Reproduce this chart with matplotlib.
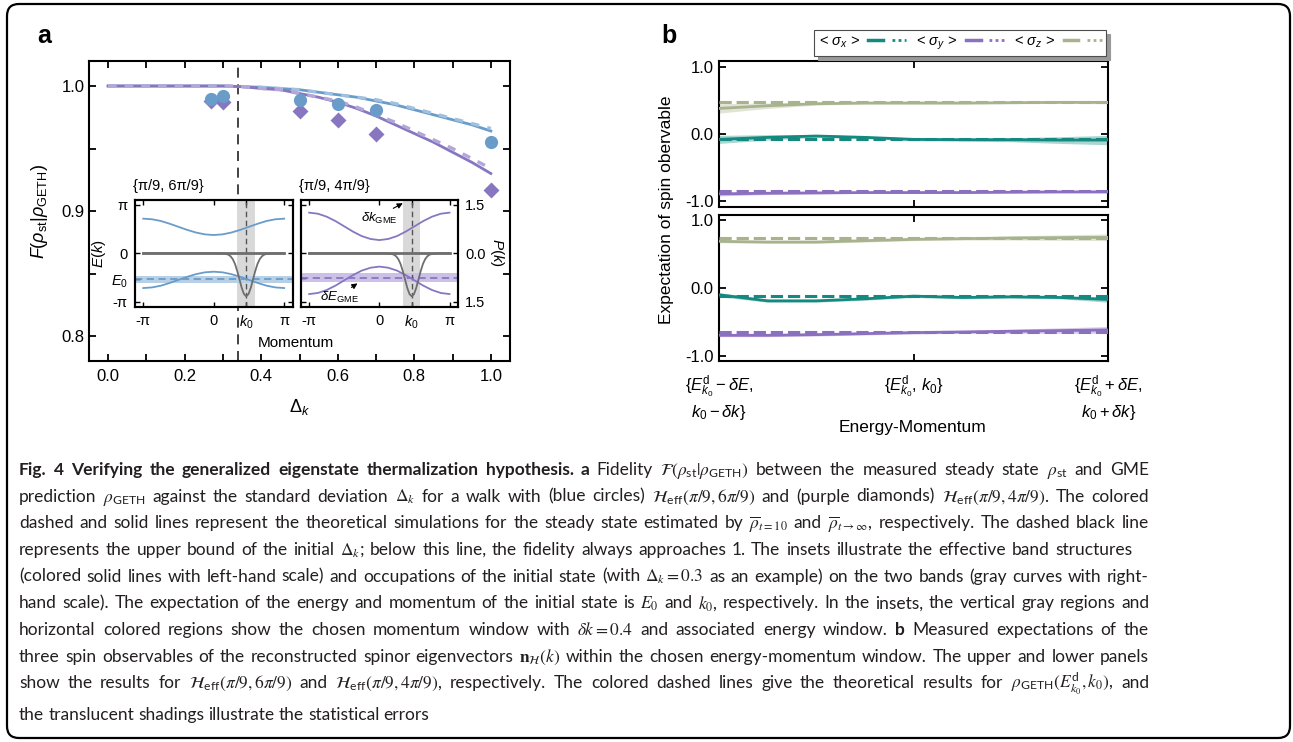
import numpy as np
import matplotlib
matplotlib.use("Agg")
import matplotlib.pyplot as plt
from matplotlib import font_manager
from matplotlib.lines import Line2D
from matplotlib.patches import FancyBboxPatch
from matplotlib.transforms import IdentityTransform
from matplotlib.legend_handler import HandlerTuple
from matplotlib.ticker import MultipleLocator, FormatStrFormatter

plt.rcParams['font.family'] = ['Liberation Sans', 'DejaVu Sans']
plt.rcParams['mathtext.fontset'] = 'custom'
plt.rcParams['mathtext.rm'] = 'Liberation Sans'
plt.rcParams['mathtext.it'] = 'Liberation Sans:italic'
plt.rcParams['mathtext.bf'] = 'Liberation Sans:bold'
plt.rcParams['axes.unicode_minus'] = False

# ---- panel a: fidelity against Delta_k ----
dk_theory = [0.0, 0.05, 0.1, 0.15, 0.2, 0.25, 0.3, 0.35, 0.4, 0.45, 0.5,
             0.55, 0.6, 0.65, 0.7, 0.75, 0.8, 0.85, 0.9, 0.95, 1.0]
fid_blue_inf = [1.000, 1.000, 1.000, 1.000, 1.000, 1.000, 1.000, 0.9995, 0.999, 0.998, 0.997,
                0.995, 0.993, 0.991, 0.988, 0.985, 0.981, 0.977, 0.973, 0.969, 0.964]
fid_blue_t10 = [1.000, 1.000, 1.000, 1.000, 1.000, 1.000, 1.000, 0.9995, 0.999, 0.998, 0.997,
                0.995, 0.993, 0.991, 0.989, 0.986, 0.982, 0.978, 0.974, 0.970, 0.966]
fid_purple_inf = [1.000, 1.000, 1.000, 1.000, 1.000, 1.000, 1.000, 0.9995, 0.998, 0.997, 0.994,
                  0.991, 0.987, 0.982, 0.976, 0.969, 0.962, 0.955, 0.947, 0.939, 0.930]
fid_purple_t10 = [1.000, 1.000, 1.000, 1.000, 1.000, 1.000, 1.000, 0.9995, 0.998, 0.997, 0.994,
                  0.991, 0.988, 0.983, 0.977, 0.971, 0.964, 0.957, 0.950, 0.942, 0.934]
dk_exp = [0.27, 0.30, 0.50, 0.60, 0.70, 1.00]
fid_blue_exp = [0.990, 0.992, 0.989, 0.986, 0.981, 0.955]
fid_purple_exp = [0.988, 0.987, 0.980, 0.973, 0.962, 0.917]
dk_bound = 0.34

# ---- insets: band structures and occupation ----
k_band = [-3.14, -2.75, -2.36, -1.96, -1.57, -1.18, -0.79, -0.39, 0.0,
          0.39, 0.79, 1.18, 1.57, 1.96, 2.36, 2.75, 3.14]
E_blue_up = [2.25, 2.21, 2.10, 1.92, 1.72, 1.52, 1.35, 1.23, 1.19,
             1.23, 1.35, 1.52, 1.72, 1.92, 2.10, 2.21, 2.25]
E_blue_dn = [-2.25, -2.21, -2.10, -1.92, -1.72, -1.52, -1.35, -1.23, -1.19,
             -1.23, -1.35, -1.52, -1.72, -1.92, -2.10, -2.21, -2.25]
E_purple_up = [2.64, 2.57, 2.38, 2.09, 1.75, 1.41, 1.12, 0.93, 0.86,
               0.93, 1.12, 1.41, 1.75, 2.09, 2.38, 2.57, 2.64]
E_purple_dn = [-2.64, -2.57, -2.38, -2.09, -1.75, -1.41, -1.12, -0.93, -0.86,
               -0.93, -1.12, -1.41, -1.75, -2.09, -2.38, -2.57, -2.64]
k_occ = [-3.14, 0.25, 0.5, 0.65, 0.75, 0.85, 0.95, 1.05, 1.15, 1.25, 1.35, 1.45,
         1.55, 1.65, 1.75, 1.85, 1.95, 2.05, 2.15, 2.25, 2.4, 2.65, 3.14]
occ_lower = [0.0, 0.0, 0.01, 0.04, 0.09, 0.18, 0.33, 0.55, 0.81, 1.07, 1.26, 1.33,
             1.26, 1.07, 0.81, 0.55, 0.33, 0.18, 0.09, 0.04, 0.01, 0.0, 0.0]
occ_upper = [0.0] * len(k_occ)
K0, DK = 1.44, 0.4
E0_blue, dE_blue = -1.69, 0.22
E0_purple, dE_purple = -1.59, 0.29

# ---- panel b: spin expectations within the window ----
pos_b = [-1.0, -0.75, -0.5, -0.25, 0.0, 0.25, 0.5, 0.75, 1.0]
sx_up = [-0.08, -0.05, -0.03, -0.05, -0.08, -0.085, -0.085, -0.09, -0.09]
sx_up_err = [0.06, 0.04, 0.02, 0.02, 0.02, 0.02, 0.03, 0.05, 0.07]
sy_up = [-0.89, -0.88, -0.875, -0.87, -0.87, -0.87, -0.865, -0.86, -0.86]
sy_up_err = [0.03, 0.02, 0.015, 0.01, 0.01, 0.01, 0.01, 0.015, 0.015]
sz_up = [0.38, 0.42, 0.45, 0.46, 0.46, 0.46, 0.465, 0.47, 0.47]
sz_up_err = [0.07, 0.04, 0.02, 0.015, 0.015, 0.015, 0.015, 0.015, 0.02]
theory_up = [-0.07, -0.85, 0.48]

sx_lo = [-0.10, -0.19, -0.19, -0.16, -0.12, -0.14, -0.13, -0.14, -0.17]
sx_lo_err = [0.03, 0.02, 0.02, 0.02, 0.02, 0.02, 0.02, 0.02, 0.04]
sy_lo = [-0.70, -0.70, -0.69, -0.675, -0.66, -0.65, -0.64, -0.63, -0.62]
sy_lo_err = [0.02, 0.02, 0.02, 0.02, 0.02, 0.02, 0.03, 0.04, 0.05]
sz_lo = [0.69, 0.68, 0.68, 0.70, 0.72, 0.73, 0.74, 0.745, 0.75]
sz_lo_err = [0.02, 0.02, 0.02, 0.02, 0.02, 0.02, 0.03, 0.04, 0.05]
theory_lo = [-0.125, -0.65, 0.735]

spin_labels = [r'< $\sigma_x$ >', r'< $\sigma_y$ >', r'< $\sigma_z$ >']
b_xticklabels = ['$\\{E^{\\rm d}_{k_0} - \\delta E,$\n$k_0 - \\delta k\\}$',
                 '$\\{E^{\\rm d}_{k_0},\\, k_0\\}$',
                 '$\\{E^{\\rm d}_{k_0} + \\delta E,$\n$k_0 + \\delta k\\}$']

BLUE, BLUE_L = '#6a9cc9', '#9fc0de'
PURPLE, PURPLE_L = '#8877c0', '#b3a7da'
TEAL, VIOLET, OLIVE = '#13897f', '#8c70c0', '#a8b38e'

W, H = 1293, 742
fig = plt.figure(figsize=(W / 100, H / 100), dpi=100)


def frac(x0, y0, x1, y1):
    # pixel box (top-left origin) -> figure fraction rect
    return [x0 / W, 1 - y1 / H, (x1 - x0) / W, (y1 - y0) / H]


def ftext(x, y, s, **kw):
    return fig.text(x / W, 1 - y / H, s, **kw)


# outer rounded frame
frame = FancyBboxPatch((7, 4), 1283, 734, boxstyle='round,pad=0,rounding_size=12',
                       transform=IdentityTransform(), fill=False, lw=1.6, ec='k')
fig.add_artist(frame)

# ================= panel a =================
ax = fig.add_axes(frac(89, 61, 510, 361))
ax.axvline(dk_bound, color='#222222', ls=(0, (6, 4)), lw=1.2, zorder=1)
ax.plot(dk_theory, fid_blue_inf, color=BLUE, lw=2, zorder=3)
ax.plot(dk_theory, fid_blue_t10, color=BLUE_L, lw=2.4, ls=(0, (2.5, 2.5)), zorder=4)
ax.plot(dk_theory, fid_purple_inf, color=PURPLE, lw=2, zorder=3)
ax.plot(dk_theory, fid_purple_t10, color=PURPLE_L, lw=2.4, ls=(0, (2.5, 2.5)), zorder=4)
ax.plot(dk_exp, fid_purple_exp, 'D', color=PURPLE, ms=8, mec='none', zorder=5)
ax.plot(dk_exp, fid_blue_exp, 'o', color=BLUE, ms=9.5, mec='none', zorder=6)
ax.set_xlim(-0.05, 1.05)
ax.set_ylim(0.78, 1.02)
ax.xaxis.set_major_locator(MultipleLocator(0.2))
ax.xaxis.set_minor_locator(MultipleLocator(0.1))
ax.yaxis.set_major_locator(MultipleLocator(0.1))
ax.yaxis.set_minor_locator(MultipleLocator(0.05))
ax.xaxis.set_major_formatter(FormatStrFormatter('%.1f'))
ax.yaxis.set_major_formatter(FormatStrFormatter('%.1f'))
ax.tick_params(which='both', direction='in', top=True, right=True, length=5, width=1.3)
ax.tick_params(axis='x', labelsize=12, pad=6)
ax.tick_params(axis='y', labelsize=12, pad=3)
for sp in ax.spines.values():
    sp.set_linewidth(1.5)
ftext(40, 212, r'$F(\rho_{\rm st}|\rho_{\rm GETH})$', rotation=90, ha='center', va='center', fontsize=13)
ftext(300, 407, r'$\Delta_k$', ha='center', va='center', fontsize=13)
ftext(44, 36, 'a', ha='center', va='center', fontsize=18, fontweight='bold')


def draw_inset(rect, E_up, E_dn, color, band_color, E0, dE, left_labels, right_labels):
    ia = fig.add_axes(frac(*rect))
    ia.set_facecolor('white')
    ia.axvspan(K0 - DK, K0 + DK, color='#d9d9d9', lw=0, zorder=0)
    ia.axhspan(E0 - dE, E0 + dE, color=band_color, lw=0, zorder=1)
    ia.axhline(E0, color=color, ls=(0, (4, 2.5)), lw=1.3, zorder=2)
    ia.axvline(K0, color='#555555', ls=(0, (4, 2.5)), lw=1, zorder=2)
    ia.plot(k_band, E_up, color=color, lw=1.3, zorder=3)
    ia.plot(k_band, E_dn, color=color, lw=1.3, zorder=3)
    ia.set_xlim(-3.52, 3.52)
    ia.set_ylim(-3.46, 3.46)
    ia.set_xticks([-np.pi, 0, K0, np.pi])
    ia.set_xticklabels(['-π', '0', '$k_0$', 'π'])
    ia.set_yticks([np.pi, 0, E0, -np.pi])
    ia.set_yticklabels(['π', '0', '$E_0$', '-π'] if left_labels else [])
    ia.tick_params(direction='in', top=True, length=3.5, width=1, labelsize=10.5, pad=5)
    ir = ia.twinx()
    ir.plot(k_occ, occ_upper, color='#6e6e6e', lw=2, zorder=4)
    ir.plot(k_occ, occ_lower, color='#6e6e6e', lw=1.3, zorder=4)
    ir.set_ylim(1.65, -1.65)
    ir.set_yticks([-1.5, 0, 1.5])
    ir.set_yticklabels(['1.5', '0.0', '1.5'] if right_labels else [])
    ir.tick_params(direction='in', length=3.5, width=1, labelsize=10.5, pad=5)
    for a in (ia, ir):
        for sp in a.spines.values():
            sp.set_linewidth(1.5)
    return ia


ins1 = draw_inset((134.7, 200, 292.7, 306.7), E_blue_up, E_blue_dn, BLUE, '#b7d0e6',
                  E0_blue, dE_blue, True, False)
ins2 = draw_inset((300.7, 200, 458, 306.7), E_purple_up, E_purple_dn, PURPLE, '#cbc1e6',
                  E0_purple, dE_purple, False, True)
arrow_kw = dict(arrowstyle='-|>', color='k', lw=0.8, mutation_scale=8, shrinkA=0, shrinkB=0)
ins2.annotate(r'$\delta k_{\rm GME}$', xy=(1.05, 3.25), xytext=(-0.02, 2.25), ha='center',
              va='center', fontsize=9.5, arrowprops=dict(arrow_kw, relpos=(0.75, 1.0)), zorder=6)
ins2.annotate(r'$\delta E_{\rm GME}$', xy=(-0.98, -1.95), xytext=(-1.78, -2.88), ha='center',
              va='center', fontsize=9.5, arrowprops=dict(arrow_kw, relpos=(0.7, 1.0)), zorder=6)
ftext(133, 186, '{π/9, 6π/9}', ha='left', va='center', fontsize=10.5)
ftext(299, 186, '{π/9, 4π/9}', ha='left', va='center', fontsize=10.5)
ftext(99, 253, '$E(k)$', rotation=90, ha='center', va='center', fontsize=11)
ftext(497, 253, '$P(k)$', rotation=270, ha='center', va='center', fontsize=11)
ftext(296, 343, 'Momentum', ha='center', va='center', fontsize=11)

# ================= panel b =================
axu = fig.add_axes(frac(719, 61.3, 1108.3, 206.7))
axl = fig.add_axes(frac(719, 215, 1108.3, 361))
colors_b = [TEAL, VIOLET, OLIVE]
for a, vals, errs, theory in [
        (axu, [sx_up, sy_up, sz_up], [sx_up_err, sy_up_err, sz_up_err], theory_up),
        (axl, [sx_lo, sy_lo, sz_lo], [sx_lo_err, sy_lo_err, sz_lo_err], theory_lo)]:
    for v, e, t, c in zip(vals, errs, theory, colors_b):
        lo = [vi - ei for vi, ei in zip(v, e)]
        hi = [vi + ei for vi, ei in zip(v, e)]
        a.fill_between(pos_b, lo, hi, color=c, alpha=0.35, lw=0, zorder=2)
        a.plot(pos_b, v, color=c, lw=2, zorder=3)
        a.axhline(t, color=c, lw=2.2, ls=(0, (4, 1.6)), zorder=4)
    a.set_xlim(-1, 1)
    a.set_ylim(-1.08, 1.08)
    a.set_yticks([-1, 0, 1])
    a.set_yticklabels(['-1.0', '0.0', '1.0'])
    a.set_xticks([-1, 0, 1])
    a.tick_params(direction='in', top=True, right=True, length=5, width=1.3, labelsize=12)
    a.tick_params(axis='y', pad=4)
    for sp in a.spines.values():
        sp.set_linewidth(1.5)
axu.tick_params(labelbottom=False)
axl.set_xticklabels(b_xticklabels)
axl.tick_params(axis='x', pad=9)
ftext(667, 210, 'Expectation of spin obervable', rotation=90, ha='center', va='center', fontsize=12.5)
ftext(913, 428, 'Energy-Momentum', ha='center', va='center', fontsize=12.5)
ftext(669, 36, 'b', ha='center', va='center', fontsize=18, fontweight='bold')

handles = [(Line2D([], [], color=c, lw=2.5), Line2D([], [], color=c, lw=2, ls=(0, (1, 1.2))))
           for c in colors_b]
leg = fig.legend(handles, spin_labels, handler_map={tuple: HandlerTuple(ndivide=None, pad=0.6)},
                 ncol=3, markerfirst=False, loc='lower right',
                 bbox_to_anchor=(1106 / W, 1 - 56 / H), frameon=True, fancybox=False,
                 edgecolor='0.3', framealpha=1, shadow={'ox': 3, 'oy': -3, 'color': '0.6', 'alpha': 1},
                 handlelength=2.6, columnspacing=0.7, fontsize=10.5, borderpad=0.3,
                 handletextpad=0.6, borderaxespad=0)
leg.get_frame().set_linewidth(0.8)

# ================= caption =================
names = {f.name for f in font_manager.fontManager.ttflist}
cap_font = 'Liberation Sans Narrow' if 'Liberation Sans Narrow' in names else 'Lato'

cap_lines = [
    [("Fig. 4  Verifying the generalized eigenstate thermalization hypothesis. a", True),
     (r"Fidelity $\mathcal{F}(\rho_{\mathregular{st}}|\rho_{\mathregular{GETH}})$ between the measured steady state "
      r"$\rho_{\mathregular{st}}$ and GME", False)],
    [(r"prediction $\rho_{\mathregular{GETH}}$ against the standard deviation $\Delta_k$ for a walk with (blue circles) "
      r"$\mathcal{H}_{\mathregular{eff}}(\pi/9,6\pi/9)$ and (purple diamonds) "
      r"$\mathcal{H}_{\mathregular{eff}}(\pi/9,4\pi/9)$. The colored", False)],
    [(r"dashed and solid lines represent the theoretical simulations for the steady state estimated by "
      r"$\overline{\rho}_{t=10}$ and $\overline{\rho}_{t\to\infty}$, respectively. The dashed black line", False)],
    [(r"represents the upper bound of the initial $\Delta_k$; below this line, the fidelity always approaches 1. "
      r"The insets illustrate the effective band structures", False)],
    [(r"(colored solid lines with left-hand scale) and occupations of the initial state (with $\Delta_k=0.3$ "
      r"as an example) on the two bands (gray curves with right-", False)],
    [(r"hand scale). The expectation of the energy and momentum of the initial state is $E_0$ and $k_0$, "
      r"respectively. In the insets, the vertical gray regions and", False)],
    [(r"horizontal colored regions show the chosen momentum window with $\delta{k}=0.4$ and associated energy window.", False),
     ("b", True), ("Measured expectations of the", False)],
    [(r"three spin observables of the reconstructed spinor eigenvectors $\mathbf{n}_{\mathcal{H}}(k)$ within the "
      r"chosen energy-momentum window. The upper and lower panels", False)],
    [(r"show the results for $\mathcal{H}_{\mathregular{eff}}(\pi/9,6\pi/9)$ and "
      r"$\mathcal{H}_{\mathregular{eff}}(\pi/9,4\pi/9)$, "
      r"respectively. The colored dashed lines give the theoretical results for "
      r"$\rho_{\mathregular{GETH}}(E^{\mathregular{d}}_{k_0},k_0)$, and", False)],
    [("the translucent shadings illustrate the statistical errors", False)],
]
cap_base = [475, 501.7, 528.3, 555, 581.7, 608.3, 635, 661.7, 688.3, 720]
cap_right = [1149, 1149, 1149, 1132, 1149, 1149, 1149, 1149, 1149, None]
cap_left = 19
size0 = 12.5

rows = []
for segs, yb in zip(cap_lines, cap_base):
    row = []
    for s, bold in segs:
        for w in s.split(' '):
            if w:
                row.append(fig.text(0, H - yb, w, transform=IdentityTransform(), family=cap_font,
                                    fontsize=size0, fontweight='bold' if bold else 'normal',
                                    math_fontfamily='stix', color='#231f20', va='baseline'))
    rows.append(row)

renderer = fig.canvas.get_renderer()


def widths(row):
    return [t.get_window_extent(renderer).width for t in row]


scale = 1.0
for row, right in zip(rows, cap_right):
    if right is None:
        continue
    need = sum(widths(row)) + 0.2 * size0 * 100 / 72 * (len(row) - 1)
    scale = min(scale, (right - cap_left) / need)
size = size0 * scale
for row in rows:
    for t in row:
        t.set_fontsize(size)

for row, right in zip(rows, cap_right):
    ws = widths(row)
    if right is None:
        gap = 0.24 * size * 100 / 72
    else:
        gap = (right - cap_left - sum(ws)) / (len(row) - 1)
    x = cap_left
    for t, w in zip(row, ws):
        t.set_x(x)
        x += w + gap

fig.savefig('out.png', dpi=100)
